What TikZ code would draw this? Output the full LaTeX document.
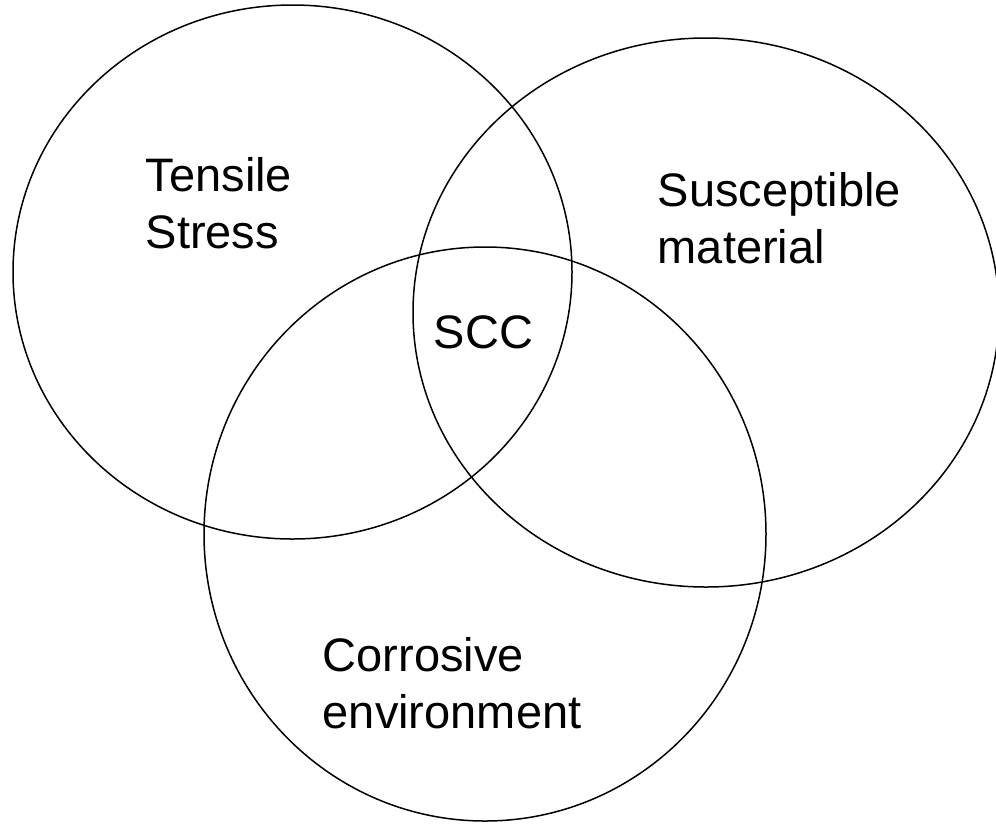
\documentclass[tikz,border=0pt]{standalone}
\usepackage{fontspec}
\setmainfont{Liberation Sans}

\begin{document}
\begin{tikzpicture}[x=1pt,y=-1pt,line width=1.5pt]
	\tikzset{venntext/.style={anchor=base west,inner sep=0pt,align=left,font=\fontsize{47}{57}\selectfont}}
	\useasboundingbox (0,0) rectangle (996,823);

	\draw (292.5,272) ellipse [x radius=279.5, y radius=267];
	\draw (706,312.5) ellipse [x radius=293, y radius=274.5];
	\draw (485,534) ellipse [x radius=281, y radius=287];

	\node[venntext] (stress) at (145,248) {Tensile\\Stress};
	\node[venntext] (material) at (657,263) {Susceptible\\material};
	\node[venntext] (scc) at (433,348) {SCC};
	\node[venntext] (environment) at (322,728) {Corrosive\\environment};
\end{tikzpicture}
\end{document}
